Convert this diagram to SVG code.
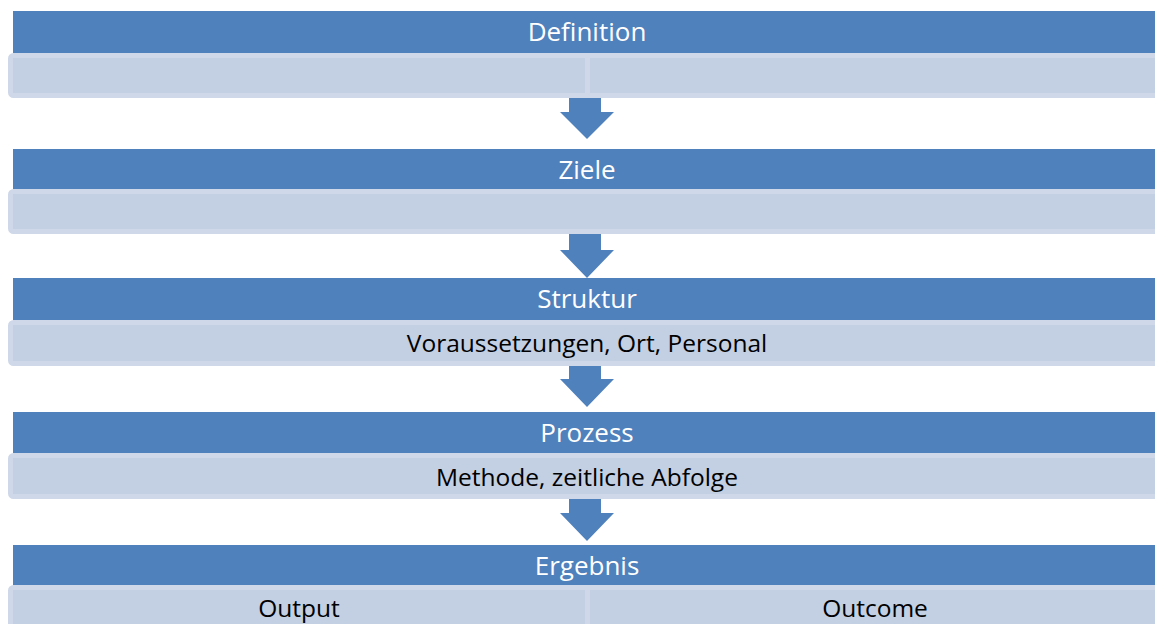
<svg xmlns="http://www.w3.org/2000/svg" width="1155" height="624" viewBox="0 0 1155 624">
<style>
.hdr{fill:#4f81bd}
.sub{fill:#c3cfe2;stroke:#cfd8e8;stroke-width:5}
.div{stroke:#cfd8e8;stroke-width:5}
.ht{font-family:"Open Sans",Lato,sans-serif;font-size:26px;fill:#ffffff;text-anchor:middle}
.st{font-family:"Open Sans",Lato,sans-serif;font-size:24.5px;fill:#000000;text-anchor:middle}
.arr{fill:#4f81bd}
</style>
<rect width="1155" height="624" fill="#ffffff"/>
<g id="connectors">
<polygon class="arr" points="569,96 601,96 601,112 614,112 587,139 560,112 569,112"/>
<polygon class="arr" points="569,232 601,232 601,250 614,250 587,278 560,250 569,250"/>
<polygon class="arr" points="569,364 601,364 601,379 614,379 587,407 560,379 569,379"/>
<polygon class="arr" points="569,497 601,497 601,513 614,513 587,541 560,513 569,513"/>
</g>
<g id="definition">
<rect class="hdr" x="13" y="11" width="1160" height="42"/>
<rect class="sub" x="10.5" y="55.5" width="1160" height="40" rx="3"/>
<line class="div" x1="587.5" y1="56" x2="587.5" y2="95"/>
<text class="ht" x="587" y="41">Definition</text>
</g>
<g id="ziele">
<rect class="hdr" x="13" y="149" width="1160" height="41"/>
<rect class="sub" x="10.5" y="191.5" width="1160" height="40" rx="3"/>
<text class="ht" x="587" y="179">Ziele</text>
</g>
<g id="struktur">
<rect class="hdr" x="13" y="278" width="1160" height="42"/>
<rect class="sub" x="10.5" y="322.5" width="1160" height="41" rx="3"/>
<text class="ht" x="587" y="308">Struktur</text>
<text class="st" x="587" y="352">Voraussetzungen, Ort, Personal</text>
</g>
<g id="prozess">
<rect class="hdr" x="13" y="412" width="1160" height="41"/>
<rect class="sub" x="10.5" y="455.5" width="1160" height="41" rx="3"/>
<text class="ht" x="587" y="442">Prozess</text>
<text class="st" x="587" y="486">Methode, zeitliche Abfolge</text>
</g>
<g id="ergebnis">
<rect class="hdr" x="13" y="545" width="1160" height="40"/>
<rect class="sub" x="10.5" y="587.5" width="1160" height="45" rx="3"/>
<line class="div" x1="587.5" y1="588" x2="587.5" y2="630"/>
<text class="ht" x="587" y="575">Ergebnis</text>
<text class="st" x="299" y="617">Output</text>
<text class="st" x="875" y="617">Outcome</text>
</g>
</svg>
